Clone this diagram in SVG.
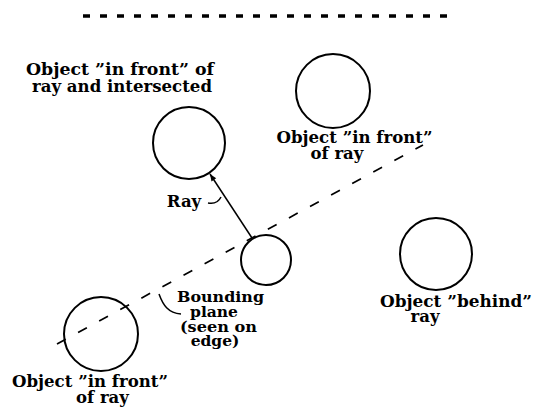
<svg xmlns="http://www.w3.org/2000/svg" width="536" height="407" viewBox="0 0 536 407">
<defs>
<style>
.obj{fill:none;stroke:#000;stroke-width:2}
.lbl{font-family:"DejaVu Serif","Liberation Serif",serif;font-weight:bold;font-size:16.5px;fill:#000;text-anchor:middle}
.sm{font-size:15.5px}
.dash{fill:none;stroke:#000;stroke-width:1.7;stroke-dasharray:10 14}
.top{fill:none;stroke:#000;stroke-width:3.5;stroke-dasharray:7 10}
.lead{fill:none;stroke:#000;stroke-width:1.5}
</style>
<marker id="ah" viewBox="0 0 10 10" refX="10" refY="5" markerWidth="9" markerHeight="7" orient="auto" markerUnits="userSpaceOnUse">
<path d="M0,1 L10,5 L0,9 z" fill="#000"/>
</marker>
</defs>
<rect width="536" height="407" fill="#fff"/>
<g id="top-rule"><line class="top" x1="83" y1="16" x2="450" y2="16"/></g>
<g id="obj-intersected">
<circle class="obj" cx="189" cy="143" r="36"/>
<text class="lbl" x="120" y="75" textLength="188" lengthAdjust="spacingAndGlyphs">Object ”in front” of</text>
<text class="lbl" x="122" y="92" textLength="180" lengthAdjust="spacingAndGlyphs">ray and intersected</text>
</g>
<g id="obj-front-top">
<circle class="obj" cx="333" cy="91" r="37"/>
<text class="lbl" x="354.5" y="143" textLength="156" lengthAdjust="spacingAndGlyphs">Object ”in front”</text>
<text class="lbl" x="337" y="159">of ray</text>
</g>
<g id="bounding">
<circle class="obj" cx="266" cy="260" r="25"/>
<text class="lbl sm" x="220.5" y="302" textLength="87" lengthAdjust="spacingAndGlyphs">Bounding</text>
<text class="lbl sm" x="214" y="317">plane</text>
<text class="lbl sm" x="218.5" y="332" textLength="77" lengthAdjust="spacingAndGlyphs">(seen on</text>
<text class="lbl sm" x="215" y="346">edge)</text>
</g>
<g id="obj-behind">
<circle class="obj" cx="436" cy="254" r="36"/>
<text class="lbl" x="456" y="307" textLength="152" lengthAdjust="spacingAndGlyphs">Object ”behind”</text>
<text class="lbl" x="425" y="322">ray</text>
</g>
<g id="obj-front-bottom">
<circle class="obj" cx="101" cy="334" r="37"/>
<text class="lbl" x="90" y="387" textLength="156" lengthAdjust="spacingAndGlyphs">Object ”in front”</text>
<text class="lbl" x="102.5" y="403">of ray</text>
</g>
<g id="ray-label"><text class="lbl" x="184" y="207">Ray</text></g>
<g id="connectors">
<line class="dash" x1="57" y1="344" x2="423" y2="145"/>
<line class="lead" x1="252" y1="238" x2="210" y2="174" marker-end="url(#ah)"/>
<path class="lead" d="M208,203 C213,204 218,203 221,197"/>
<path class="lead" d="M159,294 C163,305 168,313 181,314"/>
</g>
</svg>
